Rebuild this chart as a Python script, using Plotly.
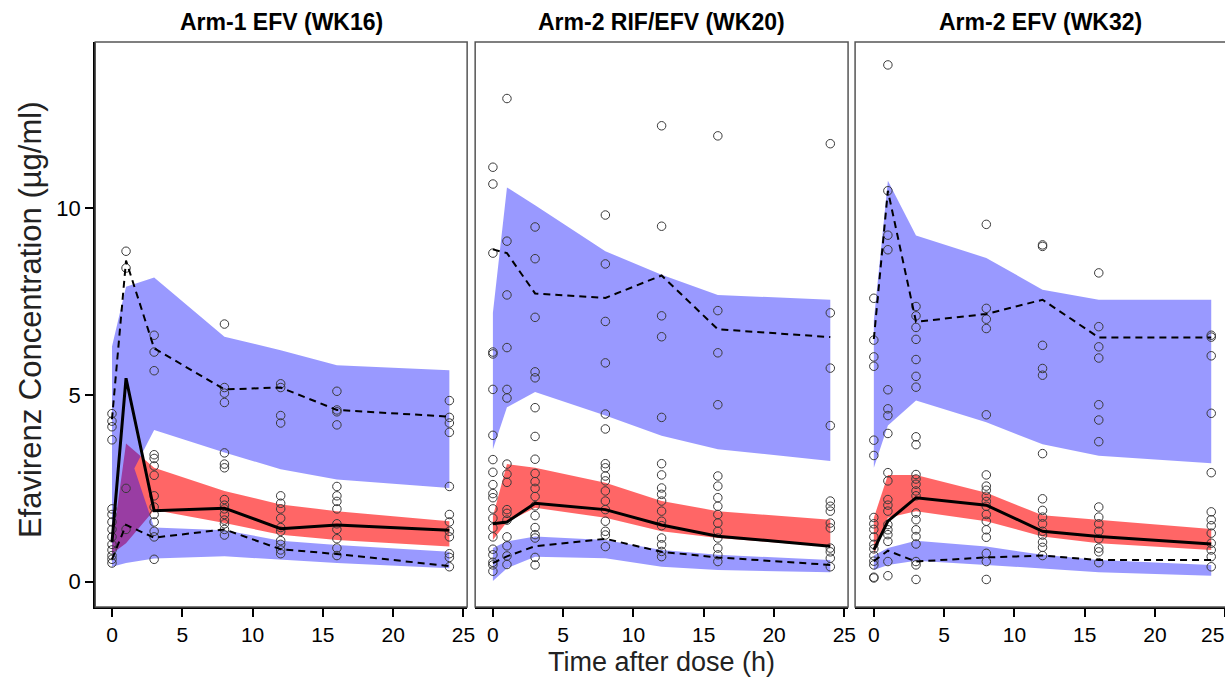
import plotly.graph_objects as go

# ---------------- data ----------------
times = [0, 1, 3, 8, 12, 16, 24]
panel_titles = ["Arm-1 EFV (WK16)", "Arm-2 RIF/EFV (WK20)", "Arm-2 EFV (WK32)"]
x_ticks = [0, 5, 10, 15, 20, 25]
x_tick_labels = ["0", "5", "10", "15", "20", "25"]
y_ticks = [0, 5, 10]

# observed concentrations per time point (panel 1..3)
obs1 = {
    0: [4.5, 4.3, 4.15, 3.8, 1.95, 1.8, 1.6, 1.4, 1.2, 1.0, 0.85, 0.7, 0.6, 0.5],
    1: [8.85, 8.4, 2.5, 1.4],
    3: [6.6, 6.15, 5.65, 3.4, 3.3, 3.1, 2.85, 2.3, 2.0, 1.8, 1.6, 1.35, 1.2, 0.6],
    8: [6.9, 5.2, 5.05, 4.8, 3.45, 3.15, 3.05, 2.2, 2.05, 1.95, 1.8, 1.65, 1.55, 1.4, 1.25],
    12: [5.3, 5.2, 4.45, 4.25, 2.3, 2.1, 1.95, 1.7, 1.45, 1.35, 1.1, 1.0, 0.85, 0.75],
    16: [5.1, 4.6, 4.55, 4.2, 2.55, 2.3, 2.15, 1.95, 1.55, 1.4, 1.15, 0.9, 0.7],
    24: [4.85, 4.4, 4.25, 4.0, 2.55, 1.8, 1.6, 1.35, 1.2, 0.75, 0.65, 0.4],
}
obs2 = {
    0: [11.1, 10.65, 8.8, 6.15, 6.1, 5.15, 3.92, 3.27, 2.93, 2.6, 2.36, 2.25, 1.95, 1.7,
        1.44, 1.2, 0.87, 0.72, 0.52, 0.45, 0.28],
    1: [12.94, 9.12, 7.68, 6.27, 5.15, 4.92, 3.15, 2.88, 2.66, 1.93, 1.83, 1.65, 1.2, 0.96, 0.69, 0.46],
    3: [9.5, 8.65, 7.08, 5.62, 5.46, 4.66, 3.89, 3.28, 2.9, 2.68, 2.5, 2.28, 2.03, 1.77, 1.45,
        1.26, 1.17, 0.65, 0.45],
    8: [9.82, 8.51, 6.97, 5.86, 4.49, 4.09, 3.16, 3.05, 2.83, 2.7, 2.43, 2.16, 1.93, 1.62, 1.35, 1.25, 0.94],
    12: [12.21, 9.52, 7.12, 6.56, 4.4, 3.16, 2.86, 2.51, 2.34, 2.16, 1.89, 1.62, 1.5, 1.17, 0.99, 0.81, 0.67],
    16: [11.94, 7.26, 6.13, 4.74, 2.83, 2.56, 2.25, 2.02, 1.8, 1.57, 1.35, 1.17, 0.9, 0.72, 0.54],
    24: [11.73, 7.2, 5.72, 4.18, 2.16, 2.02, 1.89, 1.57, 1.44, 0.9, 0.8, 0.63, 0.4],
}
obs3 = {
    0: [7.59, 6.47, 6.02, 5.77, 3.79, 3.38, 1.72, 1.55, 1.4, 1.2, 1.0, 0.88, 0.7, 0.55, 0.45, 0.12, 0.1],
    1: [13.84, 10.47, 9.28, 8.89, 5.14, 4.63, 4.45, 3.97, 2.92, 2.7, 2.2, 2.05, 1.89, 1.53, 1.39,
        1.26, 1.08, 0.54, 0.16],
    3: [7.37, 7.12, 6.81, 6.49, 5.95, 5.5, 5.21, 3.88, 3.67, 2.87, 2.75, 2.61, 2.43, 2.3, 1.84,
        1.66, 1.39, 1.21, 1.01, 0.54, 0.45, 0.06],
    8: [9.57, 7.32, 7.03, 6.78, 4.47, 2.86, 2.56, 2.45, 2.29, 2.15, 2.02, 1.8, 1.62, 1.39, 1.19,
        0.76, 0.54, 0.06],
    12: [9.02, 8.98, 6.33, 5.71, 5.53, 3.43, 2.22, 1.91, 1.73, 1.55, 1.35, 1.25, 1.06, 0.92, 0.7],
    16: [8.27, 6.83, 6.29, 5.99, 4.74, 4.33, 3.75, 2.0, 1.73, 1.55, 1.35, 1.15, 0.9, 0.8, 0.51],
    24: [6.6, 6.55, 6.05, 4.51, 2.92, 1.87, 1.66, 1.5, 1.3, 1.03, 0.85, 0.67, 0.4],
}

# observed percentiles
median1 = [1.05, 5.45, 1.9, 1.97, 1.42, 1.52, 1.38]
p95_1 = [4.35, 8.6, 6.25, 5.15, 5.2, 4.6, 4.42]
p05_1 = [0.6, 1.52, 1.18, 1.4, 0.87, 0.74, 0.42]
median2 = [1.55, 1.6, 2.1, 1.93, 1.52, 1.22, 0.95]
p95_2 = [8.9, 8.8, 7.72, 7.6, 8.2, 6.76, 6.55]
p05_2 = [0.5, 0.68, 0.95, 1.15, 0.8, 0.65, 0.45]
median3 = [0.85, 1.62, 2.25, 2.05, 1.35, 1.21, 1.01]
p95_3 = [6.5, 10.47, 6.96, 7.17, 7.55, 6.54, 6.54]
p05_3 = [0.55, 0.83, 0.54, 0.65, 0.7, 0.58, 0.58]

# simulated prediction intervals (upper / lower limits)
hi_upper1 = [6.3, 7.9, 8.15, 6.56, 6.2, 5.8, 5.66]
hi_lower1 = [1.0, 2.6, 4.06, 3.46, 3.01, 2.74, 2.51]
mid_upper1 = [0.95, 3.7, 3.05, 2.43, 2.07, 1.89, 1.62]
mid_lower1 = [0.75, 1.03, 1.92, 1.57, 1.26, 1.12, 0.94]
lo_upper1 = [1.0, 3.7, 1.45, 1.38, 1.1, 0.98, 0.8]
lo_lower1 = [0.4, 0.5, 0.62, 0.68, 0.58, 0.5, 0.36]

hi_upper2 = [7.2, 10.56, 10.08, 8.85, 8.22, 7.68, 7.55]
hi_lower2 = [3.55, 4.67, 5.08, 4.45, 3.91, 3.55, 3.23]
mid_upper2 = [1.75, 3.15, 3.05, 2.65, 2.16, 1.89, 1.66]
mid_lower2 = [1.12, 1.6, 1.98, 1.71, 1.35, 1.17, 0.94]
lo_upper2 = [0.9, 1.08, 1.21, 1.12, 0.85, 0.72, 0.58]
lo_lower2 = [0.02, 0.36, 0.67, 0.63, 0.4, 0.31, 0.25]

hi_upper3 = [7.0, 10.74, 9.27, 8.67, 7.82, 7.55, 7.55]
hi_lower3 = [3.05, 4.18, 4.85, 4.27, 3.68, 3.37, 3.17]
mid_upper3 = [1.71, 2.86, 2.86, 2.38, 1.78, 1.66, 1.41]
mid_lower3 = [0.72, 1.71, 1.89, 1.62, 1.21, 1.03, 0.85]
lo_upper3 = [0.7, 0.9, 1.1, 0.94, 0.72, 0.58, 0.45]
lo_lower3 = [0.31, 0.45, 0.56, 0.45, 0.36, 0.25, 0.16]

panels = [
    dict(obs=obs1, med=median1, p95=p95_1, p05=p05_1,
         hu=hi_upper1, hl=hi_lower1, mu=mid_upper1, ml=mid_lower1, lu=lo_upper1, ll=lo_lower1),
    dict(obs=obs2, med=median2, p95=p95_2, p05=p05_2,
         hu=hi_upper2, hl=hi_lower2, mu=mid_upper2, ml=mid_lower2, lu=lo_upper2, ll=lo_lower2),
    dict(obs=obs3, med=median3, p95=p95_3, p05=p05_3,
         hu=hi_upper3, hl=hi_lower3, mu=mid_upper3, ml=mid_lower3, lu=lo_upper3, ll=lo_lower3),
]

# ---------------- layout geometry (target pixels in the photographed page) ----------------
W, H = 1236, 680          # figure size (the photo is squeezed to 1225 wide)
SX = 1225 / W             # horizontal squeeze factor observed in the photo
frames_px = [(95, 466), (474, 846), (853, 1223)]
zero_px = [111.7, 491.7, 871.7]
px_per_h = 14.024
top_px, bot_px = 42, 607
y0_px, px_per_unit = 581.7, 37.34


def px_x(p):
    return (p / SX) / W


def px_y(p):
    return 1 - p / H


BLUE = "rgba(0,0,255,0.40)"
RED = "rgba(255,0,0,0.60)"
FONT = "Liberation Sans, Arial, sans-serif"

fig = go.Figure()


def poly(xs, up, lo):
    return xs + xs[::-1], up + lo[::-1]


shapes = []
annotations = []
layout_axes = {}
for i, p in enumerate(panels):
    n = i + 1
    xa = "x" if n == 1 else f"x{n}"
    ya = "y" if n == 1 else f"y{n}"
    # red band: prediction interval of median
    rx, ry = poly(times, p["mu"], p["ml"])
    fig.add_trace(go.Scatter(x=rx, y=ry, fill="toself", fillcolor=RED, line=dict(width=0),
                             mode="lines", hoverinfo="skip", showlegend=False,
                             xaxis=xa, yaxis=ya))
    # blue bands: prediction intervals of 95th and 5th percentiles (one fill)
    hx, hy = poly(times, p["hu"], p["hl"])
    lx, ly = poly(times, p["lu"], p["ll"])
    fig.add_trace(go.Scatter(x=hx + [None] + lx, y=hy + [None] + ly, fill="toself",
                             fillcolor=BLUE, line=dict(width=0), mode="lines",
                             hoverinfo="skip", showlegend=False, xaxis=xa, yaxis=ya))
    # observations
    ox, oy = [], []
    for t in times:
        for v in p["obs"][t]:
            ox.append(t)
            oy.append(v)
    fig.add_trace(go.Scatter(x=ox, y=oy, mode="markers",
                             marker=dict(symbol="circle-open", size=8.5,
                                         line=dict(width=1, color="#3a3a3a"), color="#3a3a3a"),
                             showlegend=False, xaxis=xa, yaxis=ya))
    # observed percentile lines
    for key in ("p95", "p05"):
        fig.add_trace(go.Scatter(x=times, y=p[key], mode="lines",
                                 line=dict(color="black", width=2, dash="7px,5px"),
                                 showlegend=False, xaxis=xa, yaxis=ya))
    fig.add_trace(go.Scatter(x=times, y=p["med"], mode="lines",
                             line=dict(color="black", width=3),
                             showlegend=False, xaxis=xa, yaxis=ya))

    left, right = frames_px[i]
    xr = [(left - zero_px[i]) / px_per_h, (right - zero_px[i]) / px_per_h]
    yr = [(y0_px - bot_px) / px_per_unit, (y0_px - top_px) / px_per_unit]
    xkey = "xaxis" if n == 1 else f"xaxis{n}"
    ykey = "yaxis" if n == 1 else f"yaxis{n}"
    labels = list(x_tick_labels)
    if n == 3:
        # last label of the right panel sits flush with the page edge (added below)
        labels[-1] = ""
    layout_axes[xkey] = dict(
        domain=[px_x(left), px_x(right)], range=xr, anchor=ya,
        tickvals=x_ticks, ticktext=labels, ticks="outside", ticklen=8, tickwidth=2,
        tickcolor="black", showline=True, linecolor="black", linewidth=2,
        showgrid=False, zeroline=False, ticklabeloverflow="allow",
        tickfont=dict(family=FONT, size=21, color="black"),
    )
    layout_axes[ykey] = dict(
        domain=[px_y(bot_px), px_y(top_px)], range=yr, anchor=xa,
        showgrid=False, zeroline=False,
    )
    if n == 1:
        layout_axes[ykey].update(
            tickvals=y_ticks, ticks="outside", ticklen=8, tickwidth=2, tickcolor="black",
            showline=True, linecolor="black", linewidth=2,
            tickfont=dict(family=FONT, size=22, color="black"),
        )
    else:
        layout_axes[ykey].update(showticklabels=False, ticks="")
    # frame
    shapes.append(dict(type="rect", xref="paper", yref="paper",
                       x0=px_x(left), x1=px_x(right), y0=px_y(bot_px), y1=px_y(top_px),
                       line=dict(color="#555555", width=1.5), layer="above"))
    annotations.append(dict(text=f"<b>{panel_titles[i]}</b>", xref="paper", yref="paper",
                            x=px_x((left + right) / 2), y=px_y(22), showarrow=False,
                            xanchor="center", yanchor="middle",
                            font=dict(family=FONT, size=23, color="black")))

annotations.append(dict(text=x_tick_labels[-1], xref="paper", yref="paper",
                        x=px_x(1223), y=px_y(634), showarrow=False, xanchor="right",
                        yanchor="middle", font=dict(family=FONT, size=21, color="black")))
annotations.append(dict(text="Time after dose (h)", xref="paper", yref="paper",
                        x=px_x(660), y=px_y(662), showarrow=False, xanchor="center",
                        yanchor="middle", font=dict(family=FONT, size=27, color="#222")))
annotations.append(dict(text="Efavirenz Concentration (µg/ml)", xref="paper", yref="paper",
                        x=px_x(30), y=px_y(320), showarrow=False, textangle=-90,
                        xanchor="center", yanchor="middle",
                        font=dict(family=FONT, size=31, color="#222")))

fig.update_layout(
    width=W, height=H, margin=dict(l=0, r=0, t=0, b=0),
    paper_bgcolor="white", plot_bgcolor="white", showlegend=False,
    shapes=shapes, annotations=annotations, **layout_axes,
)

fig.write_html("out.html", config={"displayModeBar": False},
               post_script="document.body.style.margin='0';document.body.style.overflow='hidden';")
